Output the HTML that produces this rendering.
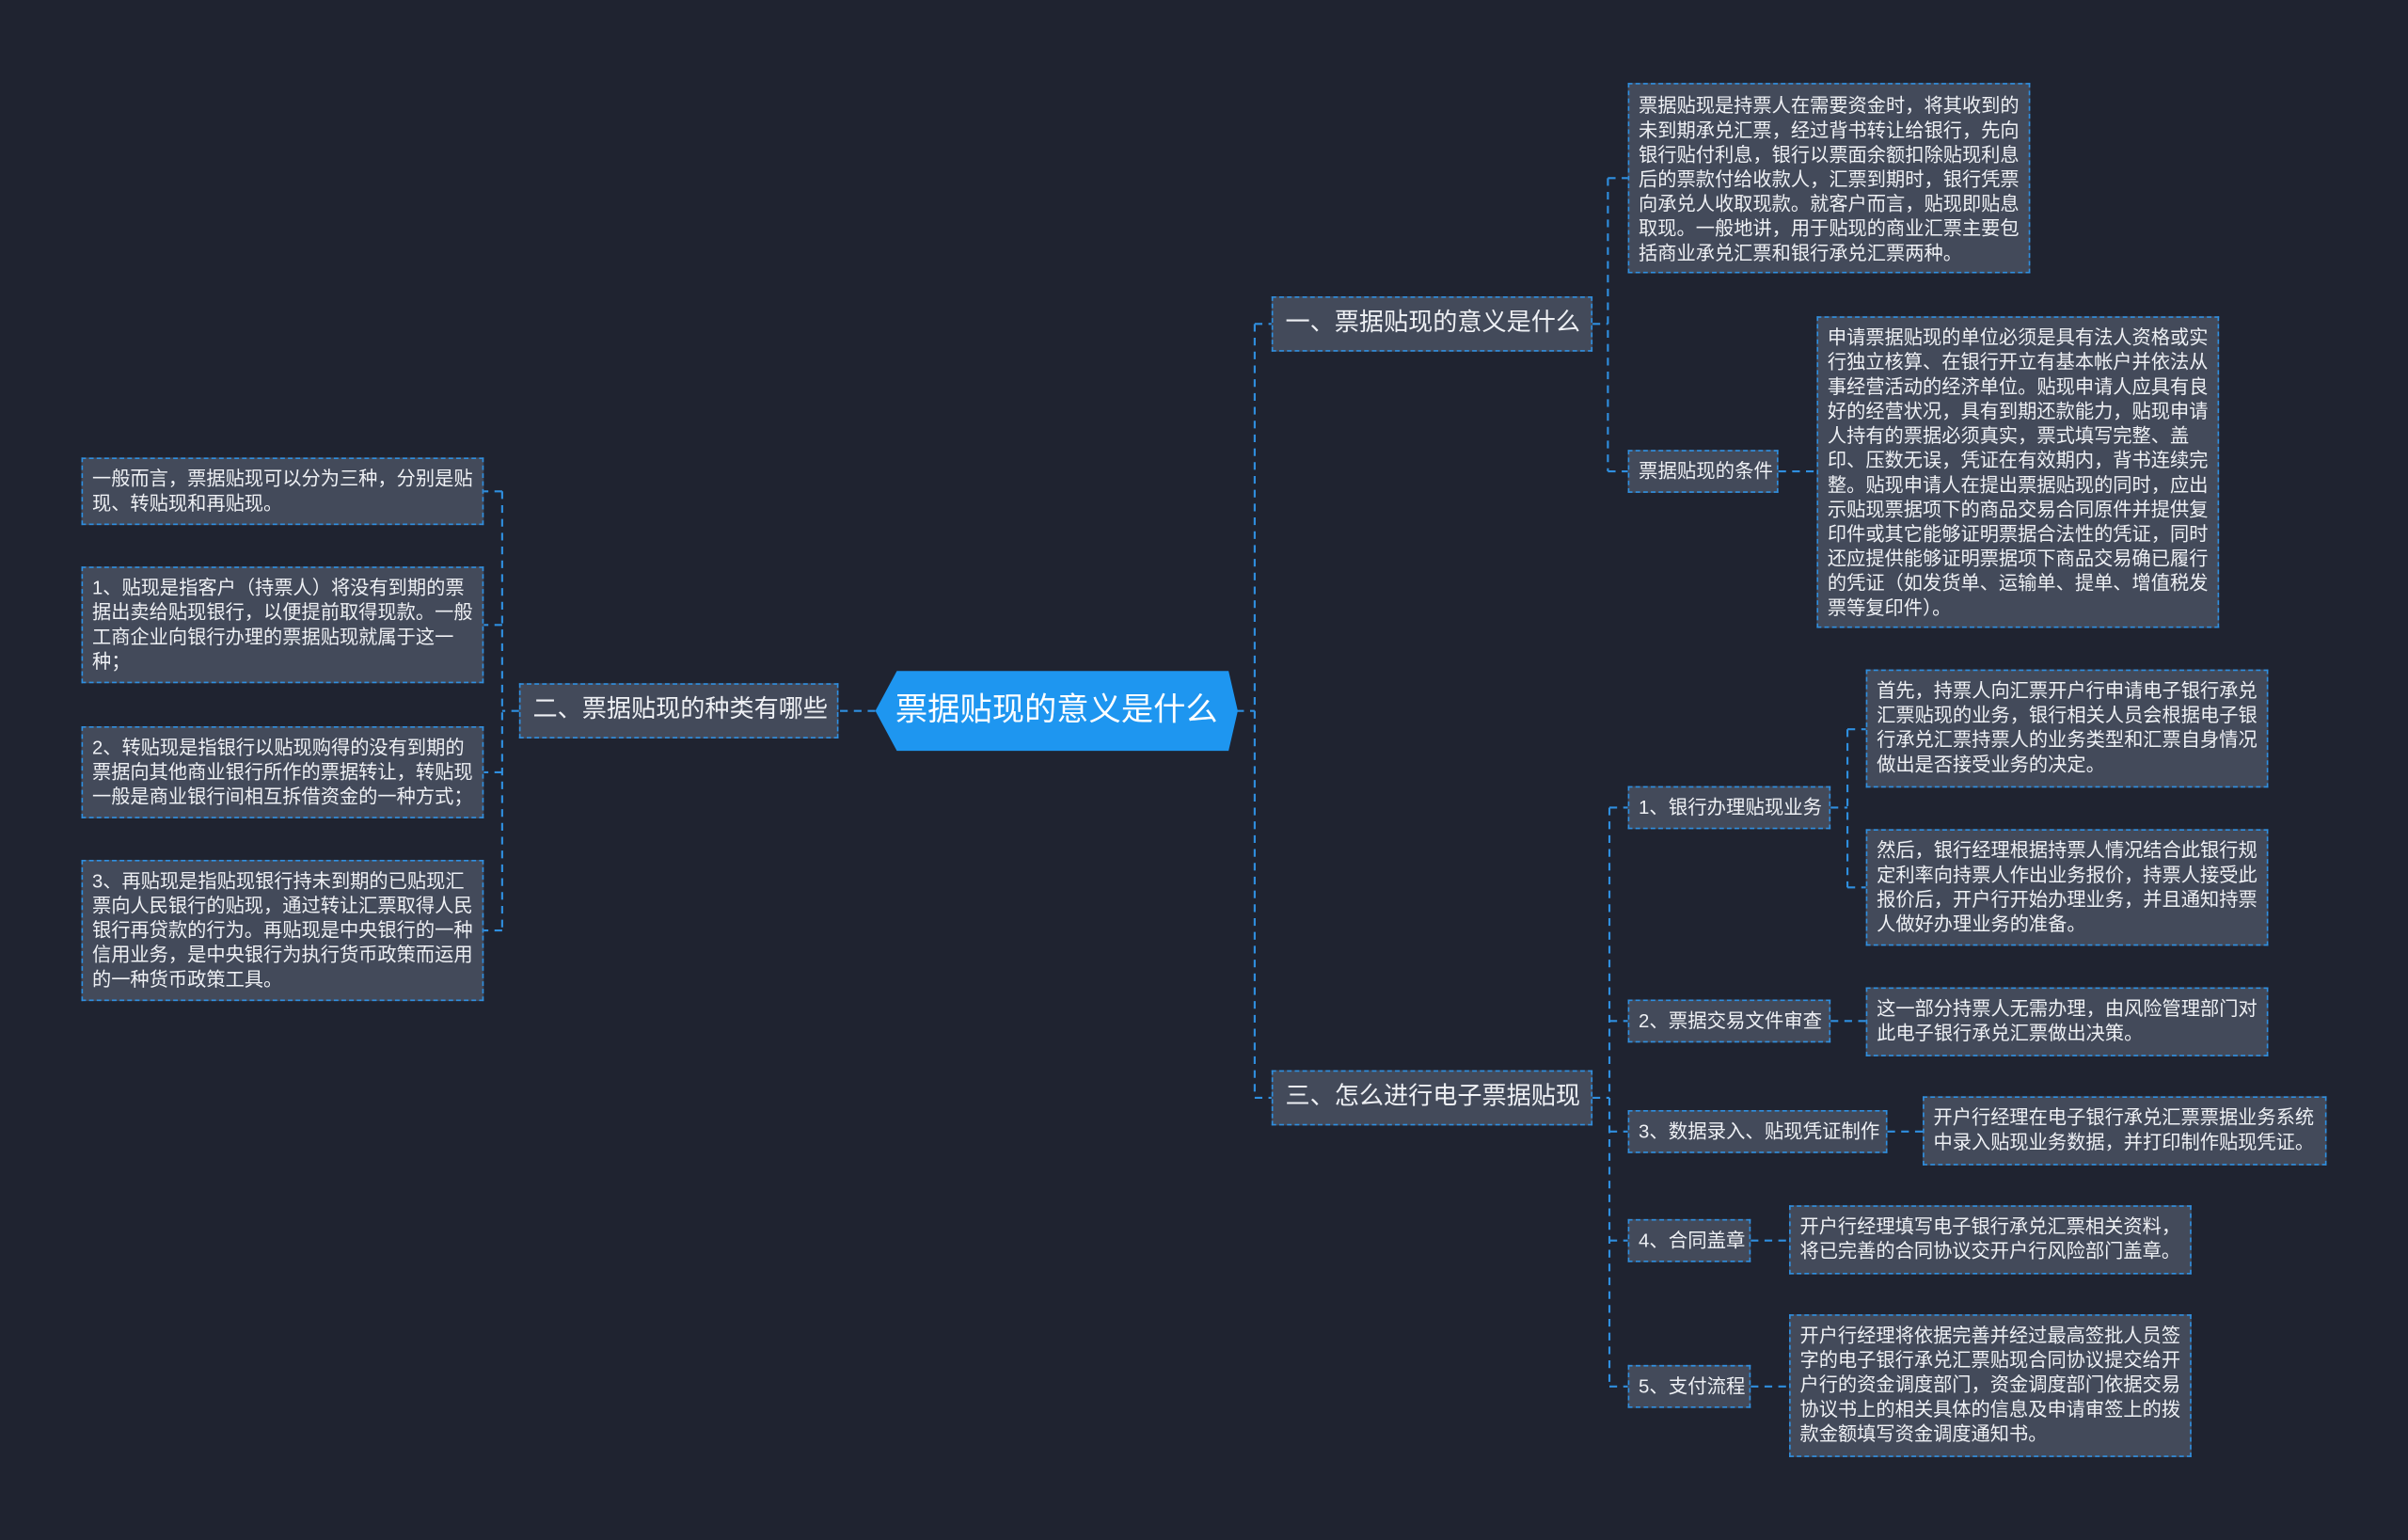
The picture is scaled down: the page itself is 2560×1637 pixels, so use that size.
<!DOCTYPE html>
<html><head><meta charset="utf-8"><style>
html,body{margin:0;padding:0;background:#1f2330;overflow:hidden}
#w{position:absolute;left:0;top:0;width:1568px;height:1003px;transform:scale(1.63265,1.63210);transform-origin:0 0;font-family:"Liberation Sans","Noto Sans CJK SC",sans-serif;color:#f2f4f8}
.n{position:absolute;box-sizing:border-box;background:#434a5a;border:1px dashed #2f8fe0;color:#eef0f4}
.b{font-size:16px;line-height:34px;padding:0 8px;white-space:nowrap}
.s{font-size:12.5px;line-height:26px;padding:0 6px;white-space:nowrap}
.l{font-size:12.4px;line-height:16px;padding:5px 5px 5px 6px;word-break:break-all}
svg{position:absolute;left:0;top:0}
</style></head><body><div id="w">
<svg width="1568" height="1003"><g stroke="#2f8fe0" stroke-width="1.3" fill="none" stroke-dasharray="5,4">
<path d="M805 463H817M817 211V715M817 211H828M817 715H828"/>
<path d="M1037 211H1047M1047 116V307M1047 116H1060M1047 307H1060M1158 307H1183"/>
<path d="M1037 715H1048M1048 526V903M1048 526H1060M1048 665H1060M1048 737H1060M1048 808H1060M1048 903H1060"/>
<path d="M1192 526H1203M1203 475V578M1203 475H1215M1203 578H1215M1192 665H1215M1229 737H1252M1140 808H1165M1140 903H1165"/>
<path d="M570 463H546M338 463H327M327 320V606M327 320H315M327 407H315M327 503H315M327 606H315"/>
</g></svg>
<svg width="1568" height="1003"><polygon points="584,437 800,437 806,463 800,489 584,489 570,463" fill="#1e96f0"/></svg>
<div style="position:absolute;left:570px;top:437px;width:236px;height:52px;line-height:52px;text-align:center;font-size:21px;color:#fff">票据贴现的意义是什么</div>
<div class="n b" style="left:338px;top:445px;width:208px;height:36px">二、票据贴现的种类有哪些</div>
<div class="n l" style="left:53px;top:298px;width:262px;height:44px">一般而言，票据贴现可以分为三种，分别是贴现、转贴现和再贴现。</div>
<div class="n l" style="left:53px;top:369px;width:262px;height:76px">1、贴现是指客户（持票人）将没有到期的票据出卖给贴现银行，以便提前取得现款。一般工商企业向银行办理的票据贴现就属于这一种；</div>
<div class="n l" style="left:53px;top:473px;width:262px;height:60px">2、转贴现是指银行以贴现购得的没有到期的票据向其他商业银行所作的票据转让，转贴现一般是商业银行间相互拆借资金的一种方式；</div>
<div class="n l" style="left:53px;top:560px;width:262px;height:92px">3、再贴现是指贴现银行持未到期的已贴现汇票向人民银行的贴现，通过转让汇票取得人民银行再贷款的行为。再贴现是中央银行的一种信用业务，是中央银行为执行货币政策而运用的一种货币政策工具。</div>
<div class="n b" style="left:828px;top:193px;width:209px;height:36px">一、票据贴现的意义是什么</div>
<div class="n l" style="left:1060px;top:54px;width:262px;height:124px;padding-top:6px">票据贴现是持票人在需要资金时，将其收到的未到期承兑汇票，经过背书转让给银行，先向银行贴付利息，银行以票面余额扣除贴现利息后的票款付给收款人，汇票到期时，银行凭票向承兑人收取现款。就客户而言，贴现即贴息取现。一般地讲，用于贴现的商业汇票主要包括商业承兑汇票和银行承兑汇票两种。</div>
<div class="n s" style="left:1060px;top:293px;width:98px;height:28px">票据贴现的条件</div>
<div class="n l" style="left:1183px;top:206px;width:262px;height:203px;padding-top:5px">申请票据贴现的单位必须是具有法人资格或实行独立核算、在银行开立有基本帐户并依法从事经营活动的经济单位。贴现申请人应具有良好的经营状况，具有到期还款能力，贴现申请人持有的票据必须真实，票式填写完整、盖印、压数无误，凭证在有效期内，背书连续完整。贴现申请人在提出票据贴现的同时，应出示贴现票据项下的商品交易合同原件并提供复印件或其它能够证明票据合法性的凭证，同时还应提供能够证明票据项下商品交易确已履行的凭证（如发货单、运输单、提单、增值税发票等复印件）。</div>
<div class="n b" style="left:828px;top:697px;width:209px;height:36px">三、怎么进行电子票据贴现</div>
<div class="n s" style="left:1060px;top:512px;width:132px;height:28px">1、银行办理贴现业务</div>
<div class="n l" style="left:1215px;top:436px;width:262px;height:77px">首先，持票人向汇票开户行申请电子银行承兑汇票贴现的业务，银行相关人员会根据电子银行承兑汇票持票人的业务类型和汇票自身情况做出是否接受业务的决定。</div>
<div class="n l" style="left:1215px;top:540px;width:262px;height:76px">然后，银行经理根据持票人情况结合此银行规定利率向持票人作出业务报价，持票人接受此报价后，开户行开始办理业务，并且通知持票人做好办理业务的准备。</div>
<div class="n s" style="left:1060px;top:651px;width:132px;height:28px">2、票据交易文件审查</div>
<div class="n l" style="left:1215px;top:643px;width:262px;height:45px">这一部分持票人无需办理，由风险管理部门对此电子银行承兑汇票做出决策。</div>
<div class="n s" style="left:1060px;top:723px;width:169px;height:28px">3、数据录入、贴现凭证制作</div>
<div class="n l" style="left:1252px;top:714px;width:263px;height:45px">开户行经理在电子银行承兑汇票票据业务系统中录入贴现业务数据，并打印制作贴现凭证。</div>
<div class="n s" style="left:1060px;top:794px;width:80px;height:28px">4、合同盖章</div>
<div class="n l" style="left:1165px;top:785px;width:262px;height:45px">开户行经理填写电子银行承兑汇票相关资料，将已完善的合同协议交开户行风险部门盖章。</div>
<div class="n s" style="left:1060px;top:889px;width:80px;height:28px">5、支付流程</div>
<div class="n l" style="left:1165px;top:856px;width:262px;height:93px">开户行经理将依据完善并经过最高签批人员签字的电子银行承兑汇票贴现合同协议提交给开户行的资金调度部门，资金调度部门依据交易协议书上的相关具体的信息及申请审签上的拨款金额填写资金调度通知书。</div>
</div></body></html>
